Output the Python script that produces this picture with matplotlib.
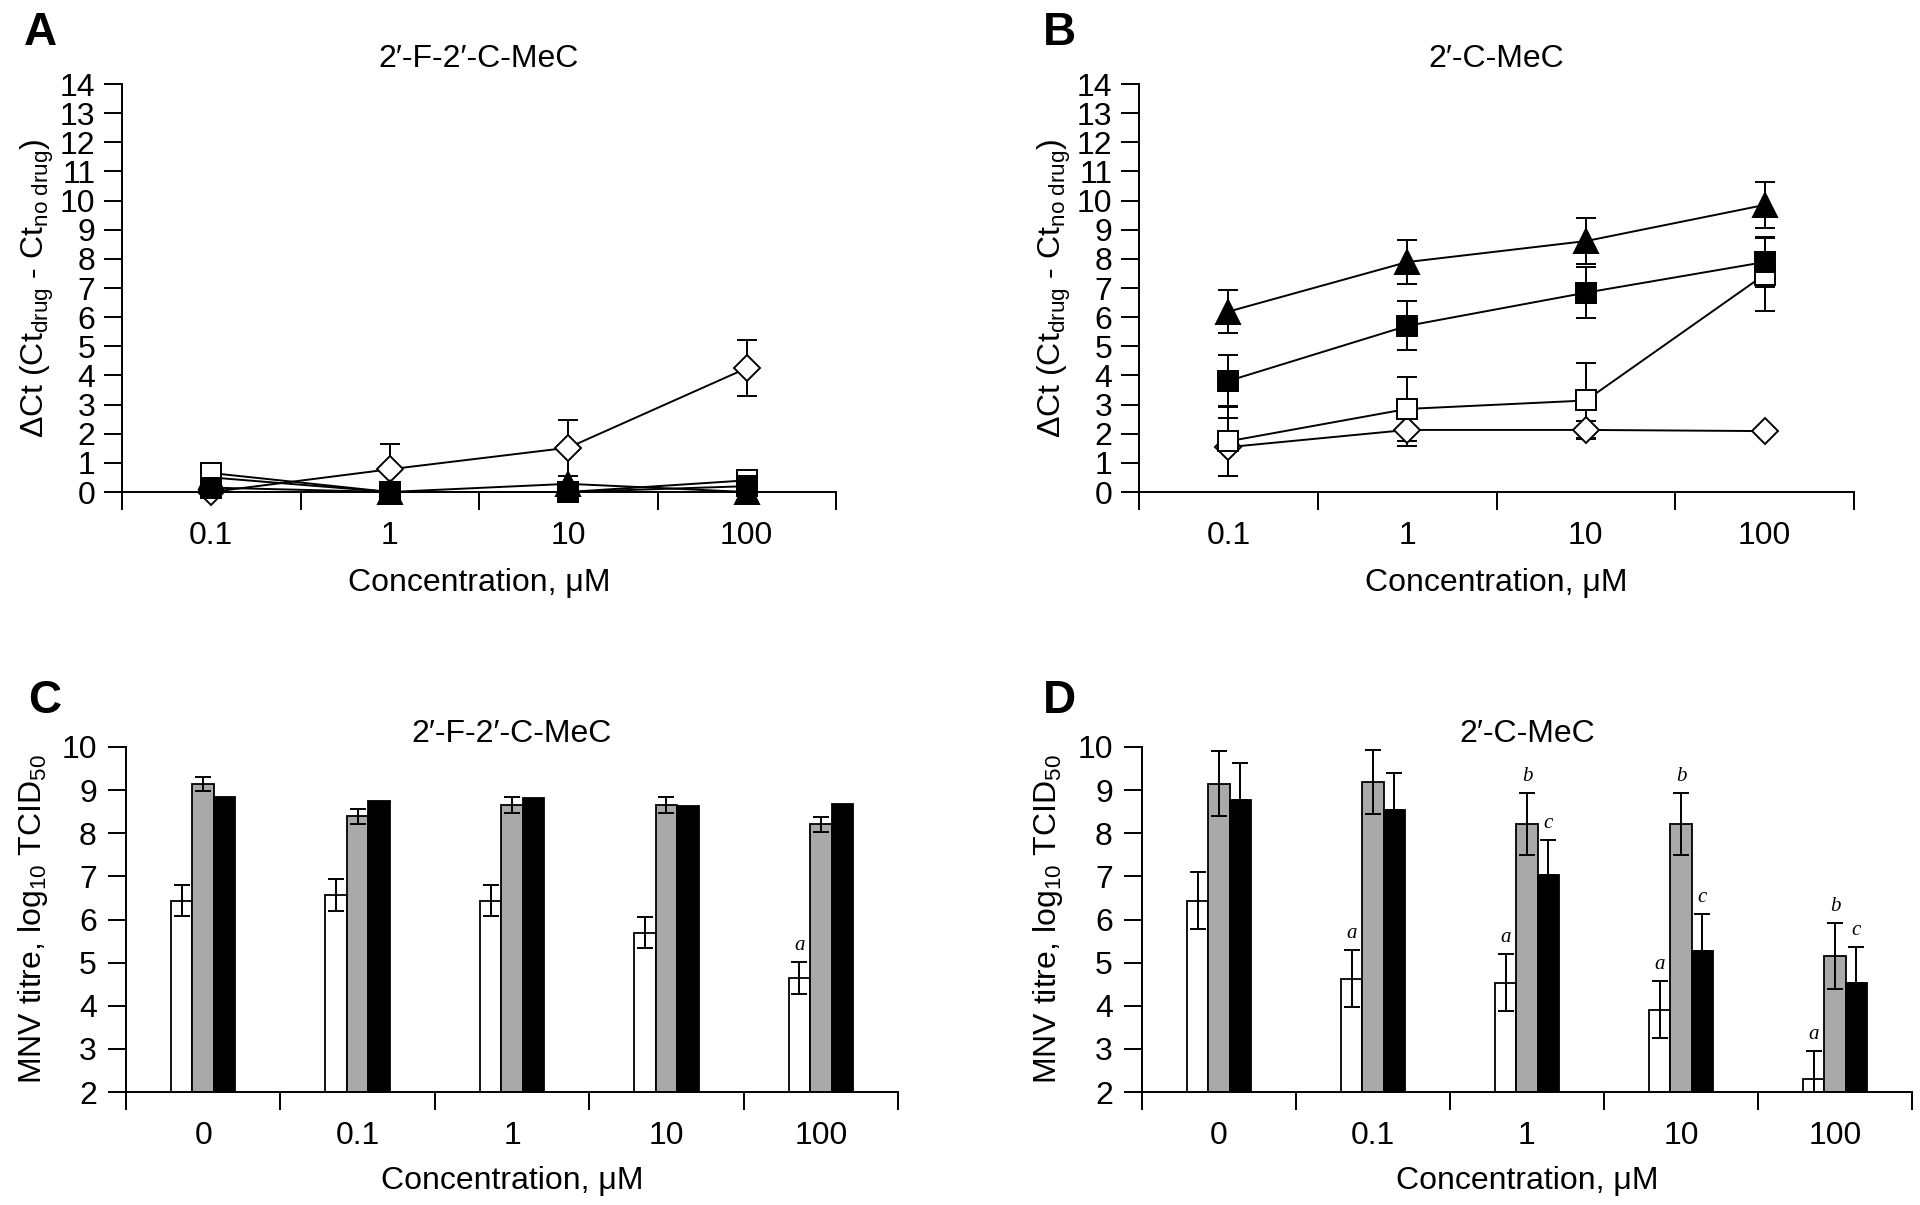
import matplotlib
matplotlib.use("Agg")
import matplotlib.pyplot as plt
import numpy as np

plt.rcParams['font.family'] = ['Liberation Sans', 'DejaVu Sans']
plt.rcParams['mathtext.fontset'] = 'custom'
plt.rcParams['mathtext.rm'] = 'Liberation Sans'
plt.rcParams['mathtext.it'] = 'Liberation Sans:italic'
plt.rcParams['mathtext.bf'] = 'Liberation Sans:bold'

# ---- data: panels A and B (delta Ct vs concentration) ----
line_conc = ['0.1', '1', '10', '100']

# panel A, 2'-F-2'-C-MeC
a_tri = [0.5, 0.0, 0.28, 0.0]
a_tri_err = [0.0, 0.0, 0.0, 0.0]
a_fsq = [0.15, 0.0, 0.0, 0.2]
a_fsq_err = [0.0, 0.0, 0.0, 0.0]
a_osq = [0.65, 0.0, 0.0, 0.4]
a_osq_err = [0.35, 0.0, 0.0, 0.0]
a_dia = [0.0, 0.78, 1.52, 4.25]
a_dia_err = [0.0, 0.87, 0.96, 0.96]

# panel B, 2'-C-MeC
b_tri = [6.19, 7.89, 8.61, 9.85]
b_tri_err = [0.75, 0.76, 0.78, 0.8]
b_fsq = [3.81, 5.7, 6.84, 7.89]
b_fsq_err = [0.88, 0.84, 0.88, 0.85]
b_osq = [1.74, 2.85, 3.14, 7.46]
b_osq_err = [1.2, 1.1, 1.28, 1.25]
b_dia = [1.54, 2.13, 2.13, 2.09]
b_dia_err = [1.0, 0.56, 0.3, 0.0]

# ---- data: panels C and D (MNV titre) ----
bar_conc = ['0', '0.1', '1', '10', '100']

c_white = [6.44, 6.57, 6.44, 5.69, 4.64]
c_white_err = [0.36, 0.38, 0.36, 0.36, 0.37]
c_gray = [9.15, 8.39, 8.66, 8.66, 8.21]
c_gray_err = [0.16, 0.18, 0.18, 0.18, 0.17]
c_black = [8.84, 8.74, 8.82, 8.63, 8.68]
c_black_err = [0.0, 0.0, 0.0, 0.0, 0.0]
c_white_sig = ['', '', '', '', 'a']
c_gray_sig = ['', '', '', '', '']
c_black_sig = ['', '', '', '', '']

d_white = [6.44, 4.63, 4.53, 3.91, 2.29]
d_white_err = [0.66, 0.67, 0.66, 0.66, 0.66]
d_gray = [9.15, 9.18, 8.21, 8.21, 5.15]
d_gray_err = [0.76, 0.74, 0.72, 0.72, 0.77]
d_black = [8.78, 8.53, 7.03, 5.27, 4.53]
d_black_err = [0.85, 0.87, 0.82, 0.86, 0.83]
d_white_sig = ['', 'a', 'a', 'a', 'a']
d_gray_sig = ['', '', 'b', 'b', 'b']
d_black_sig = ['', '', 'c', 'c', 'c']

W, H = 1920, 1205
fig = plt.figure(figsize=(W / 100, H / 100), dpi=100)


def px_axes(left, top, right, bottom):
    return fig.add_axes([left / W, 1 - bottom / H, (right - left) / W, (bottom - top) / H])


LW = 1.4
FS = 23


def style_axes(ax, labels, ymin, ymax, pad_y):
    n = len(labels)
    for s in ('top', 'right'):
        ax.spines[s].set_visible(False)
    for s in ('left', 'bottom'):
        ax.spines[s].set_linewidth(LW)
    ax.set_xlim(0, n)
    ax.set_ylim(ymin, ymax)
    ax.set_xticks(np.arange(n + 1))
    ax.set_xticklabels([])
    ax.set_xticks(np.arange(n) + 0.5, minor=True)
    ax.set_xticklabels(labels, minor=True)
    ax.tick_params(axis='x', which='major', direction='out', length=13, width=LW)
    ax.tick_params(axis='x', which='minor', length=0, pad=21, labelsize=FS)
    ax.set_yticks(np.arange(ymin, ymax + 1, 1))
    ax.tick_params(axis='y', direction='out', length=13, width=LW, pad=pad_y, labelsize=FS)


def line_panel(ax, series):
    # series are drawn in the given order, later ones on top
    x = np.arange(len(line_conc)) + 0.5
    for vals, errs, marker, face, ms in series:
        cont = ax.errorbar(x, vals, yerr=errs, color='black', lw=LW, elinewidth=LW,
                           capsize=7.5, capthick=LW, marker=marker, ms=ms,
                           mfc=face, mec='black', mew=LW)
        for art in cont.get_children():
            art.set_clip_on(False)


def bar_panel(ax, groups):
    x = np.arange(len(bar_conc)) + 0.5
    w = 0.139
    for k, (vals, errs, color, sig, both) in enumerate(groups):
        xs = x + (k - 1) * w
        ax.bar(xs, vals, width=w, color=color, edgecolor='black', lw=1.3, zorder=2)
        errs = np.array(errs)
        if errs.any():
            yerr = errs if both else [np.zeros_like(errs), errs]
            ax.errorbar(xs, vals, yerr=yerr, fmt='none', ecolor='black',
                        elinewidth=LW, capsize=5.5, capthick=LW, zorder=3)
        for xi, v, e, s in zip(xs, vals, errs, sig):
            if s:
                ax.annotate(s, (xi, v + e), xytext=(0, 5), textcoords='offset points',
                            ha='center', va='bottom', fontsize=15, style='italic',
                            family='Liberation Serif')


dct_label = 'ΔCt (Ct$_{\\rm drug}$ - Ct$_{\\rm no\\ drug}$)'
titre_label = 'MNV titre, log$_{10}$ TCID$_{50}$'

# panel A
axA = px_axes(122, 84, 836, 492)
style_axes(axA, line_conc, 0, 14, 6)
line_panel(axA, [
    (a_dia, a_dia_err, 'D', 'white', 13),
    (a_tri, a_tri_err, '^', 'black', 17),
    (a_osq, a_osq_err, 's', 'white', 14),
    (a_fsq, a_fsq_err, 's', 'black', 14),
])
axA.text(0.5, 1.042, "2′-F-2′-C-MeC", transform=axA.transAxes, ha='center',
         va='baseline', fontsize=FS)
axA.set_xlabel('Concentration, μM', fontsize=FS, labelpad=12)
axA.set_ylabel(dct_label, fontsize=FS)
axA.yaxis.set_label_coords(-0.092, 0.5)

# panel B
axB = px_axes(1139, 84, 1854, 492)
style_axes(axB, line_conc, 0, 14, 6)
line_panel(axB, [
    (b_dia, b_dia_err, 'D', 'white', 13),
    (b_osq, b_osq_err, 's', 'white', 14),
    (b_fsq, b_fsq_err, 's', 'black', 14),
    (b_tri, b_tri_err, '^', 'black', 17),
])
axB.text(0.5, 1.042, "2′-C-MeC", transform=axB.transAxes, ha='center',
         va='baseline', fontsize=FS)
axB.set_xlabel('Concentration, μM', fontsize=FS, labelpad=12)
axB.set_ylabel(dct_label, fontsize=FS)
axB.yaxis.set_label_coords(-0.092, 0.5)

# panel C
axC = px_axes(126, 747, 898, 1092)
style_axes(axC, bar_conc, 2, 10, 8)
bar_panel(axC, [
    (c_white, c_white_err, 'white', c_white_sig, True),
    (c_gray, c_gray_err, '#a9a9a9', c_gray_sig, True),
    (c_black, c_black_err, 'black', c_black_sig, False),
])
axC.text(0.5, 1.014, "2′-F-2′-C-MeC", transform=axC.transAxes, ha='center',
         va='baseline', fontsize=FS)
axC.set_xlabel('Concentration, μM', fontsize=FS, labelpad=11)
axC.set_ylabel(titre_label, fontsize=FS)
axC.yaxis.set_label_coords(-0.098, 0.5)

# panel D
axD = px_axes(1142, 747, 1912, 1092)
style_axes(axD, bar_conc, 2, 10, 8)
bar_panel(axD, [
    (d_white, d_white_err, 'white', d_white_sig, True),
    (d_gray, d_gray_err, '#a9a9a9', d_gray_sig, True),
    (d_black, d_black_err, 'black', d_black_sig, False),
])
axD.text(0.5, 1.014, "2′-C-MeC", transform=axD.transAxes, ha='center',
         va='baseline', fontsize=FS)
axD.set_xlabel('Concentration, μM', fontsize=FS, labelpad=11)
axD.set_ylabel(titre_label, fontsize=FS)
axD.yaxis.set_label_coords(-0.1, 0.5)

# panel letters
for lab, x, y in [('A', 24, 45), ('B', 1043, 45), ('C', 28, 713), ('D', 1043, 713)]:
    fig.text(x / W, 1 - y / H, lab, fontsize=33, fontweight='bold', va='baseline')

fig.savefig('out.png', dpi=100)
